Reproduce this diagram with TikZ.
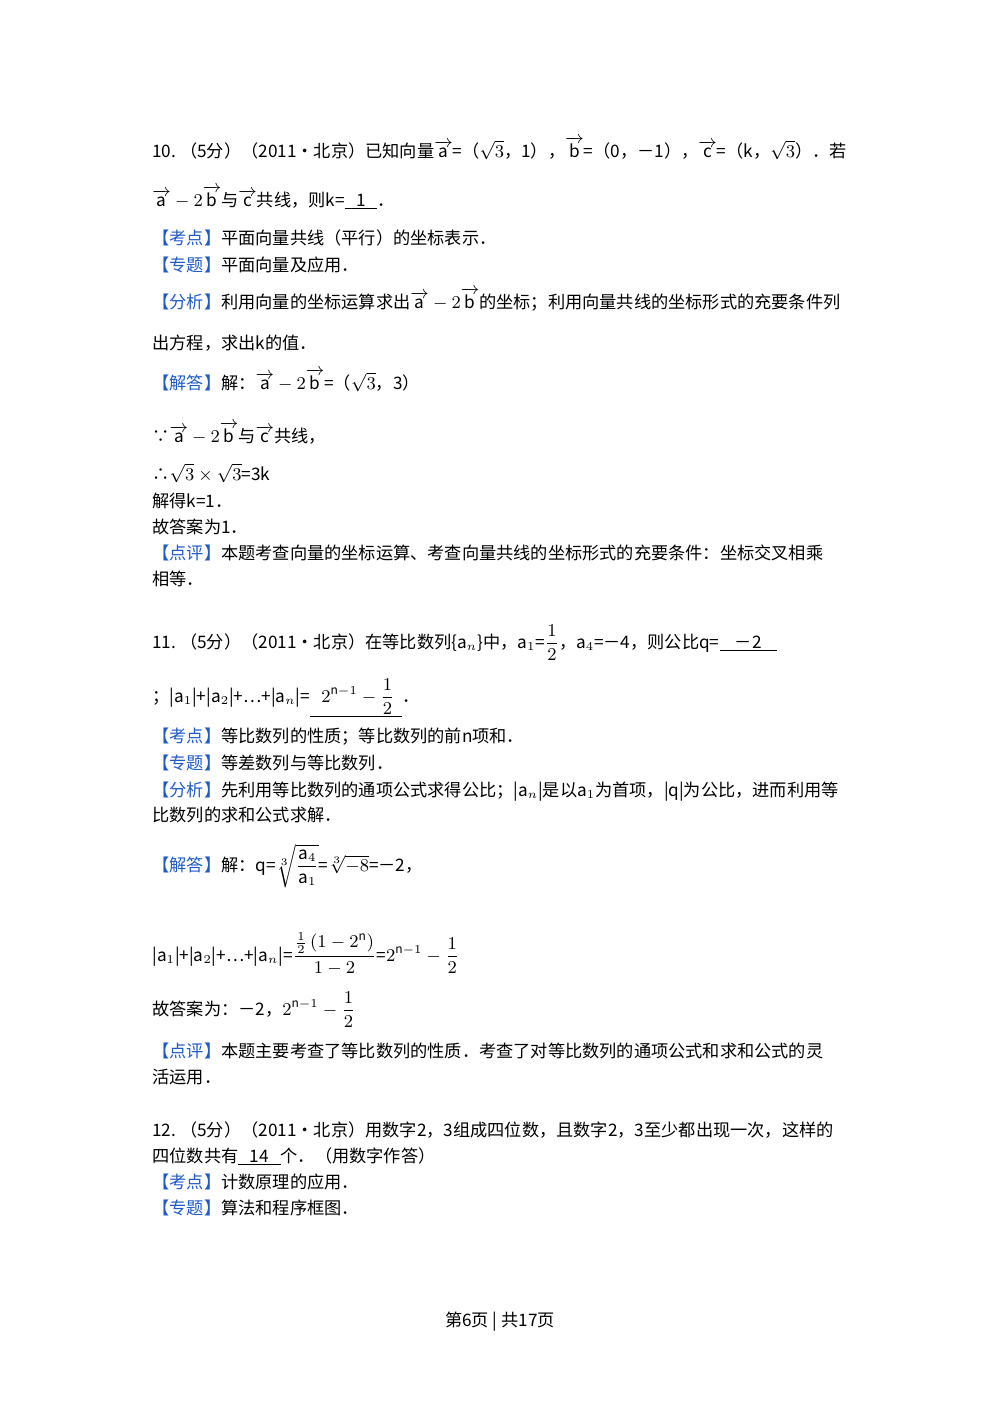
\documentclass[tikz,border=0pt]{standalone}
\usepackage{amsmath}
\usepackage{fontspec}
\setmainfont{Noto Sans CJK SC}
\definecolor{lbl}{RGB}{30,90,200}
\newcommand{\kd}[1]{{\color{lbl}【#1】}}
\newcommand{\va}{\overrightarrow{\mathrm{a}}}
\newcommand{\vb}{\overrightarrow{\mathrm{b}}}
\newcommand{\vc}{\overrightarrow{\mathrm{c}}}
\begin{document}
\begin{tikzpicture}[x=0.5pt,y=-0.5pt,
  every node/.style={anchor=base west,inner sep=0pt,font=\fontsize{8.6}{10}\selectfont}]
\useasboundingbox (0,0) rectangle (1000,1414);
\node (l1) at (152,157) {10.\ （5分）（2011•北京）已知向量$\va$=（$\sqrt3$，1），$\vb$=（0，－1），$\vc$=（k，$\sqrt3$）．若};
\node (l2) at (152,206) {$\va-2\vb$与$\vc$共线，则k=\underline{\ \ \ 1\ \ \ }．};
\node (l3) at (152,244) {\kd{考点}平面向量共线（平行）的坐标表示．};
\node (l4) at (152,271) {\kd{专题}平面向量及应用．};
\node (l5) at (152,308) {\kd{分析}利用向量的坐标运算求出$\va-2\vb$的坐标；利用向量共线的坐标形式的充要条件列};
\node (l6) at (152,349) {出方程，求出k的值．};
\node (l7) at (152,389) {\kd{解答}解：$\va-2\vb$=（$\sqrt3$，3）};
\node (l8) at (152,442) {∵$\va-2\vb$与$\vc$共线，};
\node (l9) at (152,480) {∴$\sqrt3\times\sqrt3$=3k};
\node (l10) at (152,507) {解得k=1．};
\node (l11) at (152,533) {故答案为1．};
\node (l12) at (152,559) {\kd{点评}本题考查向量的坐标运算、考查向量共线的坐标形式的充要条件：坐标交叉相乘};
\node (l13) at (152,585) {相等．};
\node (m1) at (152,648) {11.\ （5分）（2011•北京）在等比数列\{a$_n$\}中，a$_1$=$\dfrac12$，a$_4$=－4，则公比q=\underline{\ \ \ \ －2\ \ \ \ }};
\node (m2) at (152,702) {；|a$_1$|+|a$_2$|+…+|a$_n$|=\underline{\ \ \ $2^{\mathrm{n}-1}-\dfrac12$\ \ }．};
\node (m3) at (152,742) {\kd{考点}等比数列的性质；等比数列的前n项和．};
\node (m4) at (152,769) {\kd{专题}等差数列与等比数列．};
\node (m5) at (152,796) {\kd{分析}先利用等比数列的通项公式求得公比；|a$_n$|是以a$_1$为首项，|q|为公比，进而利用等};
\node (m6) at (152,821) {比数列的求和公式求解．};
\node (m7) at (152,871) {\kd{解答}解：q=$\sqrt[3]{\dfrac{\mathrm{a}_4}{\mathrm{a}_1}}$=$\sqrt[3]{-8}$=－2，};
\node (m8) at (152,961) {|a$_1$|+|a$_2$|+…+|a$_n$|=$\dfrac{\frac12\,(1-2^{\mathrm{n}})}{1-2}$=$2^{\mathrm{n}-1}-\dfrac12$};
\node (m9) at (152,1015) {故答案为：－2，$2^{\mathrm{n}-1}-\dfrac12$};
\node (m10) at (152,1057) {\kd{点评}本题主要考查了等比数列的性质．考查了对等比数列的通项公式和求和公式的灵};
\node (m11) at (152,1083) {活运用．};
\node (n1) at (152,1136) {12.\ （5分）（2011•北京）用数字2，3组成四位数，且数字2，3至少都出现一次，这样的};
\node (n2) at (152,1162) {四位数共有\underline{\ \ \ 14\ \ \ }个．（用数字作答）};
\node (n3) at (152,1188) {\kd{考点}计数原理的应用．};
\node (n4) at (152,1214) {\kd{专题}算法和程序框图．};
\node[anchor=base] (pg) at (500,1326) {第6页 | 共17页};
\end{tikzpicture}
\end{document}
